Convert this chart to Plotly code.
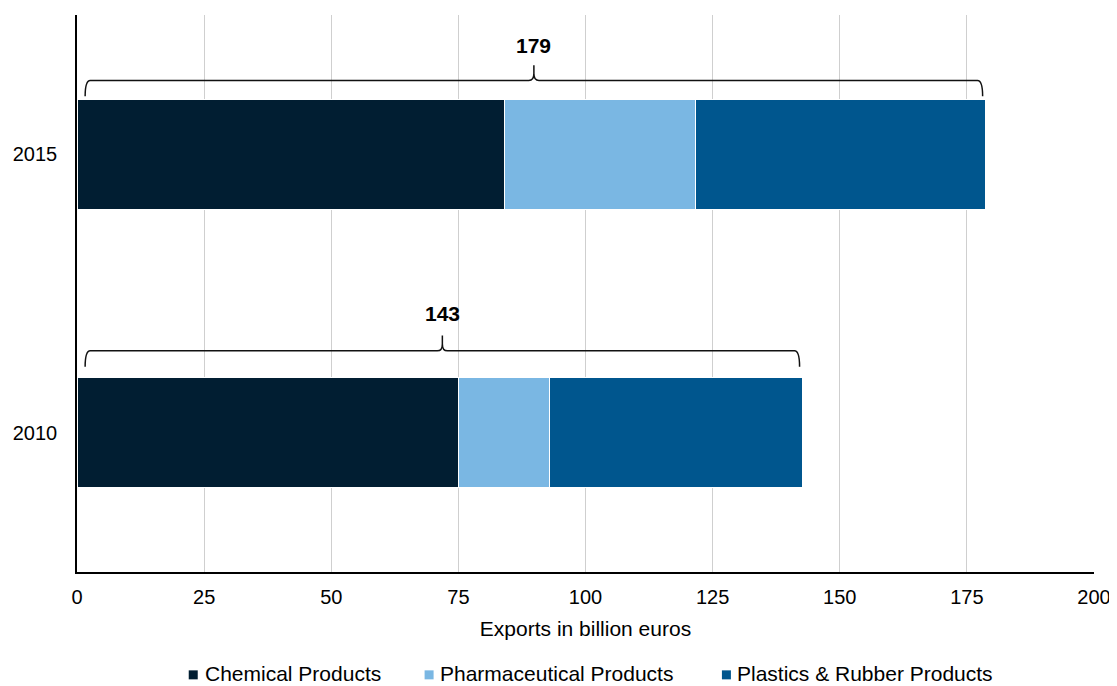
import plotly.graph_objects as go

years = ["2010", "2015"]
series_names = ["Chemical Products", "Pharmaceutical Products", "Plastics & Rubber Products"]
chemical = [75.0, 84.0]
pharma = [18.0, 37.6]
plastics = [49.7, 57.1]
totals = [143, 179]
colors = ["#011e32", "#7ab7e3", "#00568e"]
x_ticks = [0, 25, 50, 75, 100, 125, 150, 175, 200]

FONT = "Liberation Sans, Arial, sans-serif"
ypos = list(range(len(years)))

# plot-area geometry in page pixels (page has an 8px body margin)
BODY = 8
PX_L, PX_R, PX_T, PX_B = 76.7, 1094.3, 15.0, 571.7
W, H = 1117, 686

def paper_x(px):
    return (px - PX_L) / (PX_R - PX_L)

def paper_y(py):
    return (PX_B - py) / (PX_B - PX_T)

fig = go.Figure()
for name, vals, col in zip(series_names, [chemical, pharma, plastics], colors):
    fig.add_trace(go.Bar(
        y=ypos, x=vals, name=name, orientation="h",
        marker=dict(color=col, line=dict(color="white", width=1)),
        width=0.395, showlegend=False,
    ))

# curly braces above each bar
brace_off = [0.294, 0.265]
label_off = [0.43, 0.392]
sums = [sum(v) for v in zip(chemical, pharma, plastics)]
for yi, tot, bo, lo, t in zip(ypos, sums, brace_off, label_off, totals):
    x0 = 1.6
    x1 = tot - 0.6
    xm = (x0 + x1) / 2
    yH = yi + bo
    yE = yH - 0.057
    yT = yH + 0.055
    rx = 1.0
    ry = 0.025
    path = (
        f"M {x0},{yE} Q {x0},{yH} {x0+rx},{yH} "
        f"L {xm-rx},{yH} Q {xm},{yH} {xm},{yH+ry} L {xm},{yT} "
        f"M {xm},{yH+ry} Q {xm},{yH} {xm+rx},{yH} "
        f"L {x1-rx},{yH} Q {x1},{yH} {x1},{yE}"
    )
    fig.add_shape(type="path", path=path, xref="x", yref="y",
                  line=dict(color="#111111", width=1.5))
    fig.add_annotation(x=xm, y=yi + lo, text=f"<b>{t}</b>",
                       showarrow=False, xref="x", yref="y",
                       font=dict(family=FONT, size=21, color="black"),
                       yanchor="middle")

# legend (drawn manually to match spacing)
leg_sym_x = [193, 429, 726.5]
leg_txt_x = [204, 439, 736]
leg_sym_y = 674.5
leg_txt_y = 673
for name, col, sx, tx in zip(series_names, colors, leg_sym_x, leg_txt_x):
    fig.add_shape(type="rect", xref="paper", yref="paper",
                  xsizemode="pixel", ysizemode="pixel",
                  xanchor=paper_x(sx), yanchor=paper_y(leg_sym_y),
                  x0=-4.5, x1=4.5, y0=-4.5, y1=4.5,
                  fillcolor=col, line=dict(width=0))
    fig.add_annotation(x=paper_x(tx), y=paper_y(leg_txt_y), xref="paper", yref="paper",
                       text=name, showarrow=False, xanchor="left", yanchor="middle",
                       borderpad=0,
                       font=dict(family=FONT, size=21, color="black"))

fig.update_layout(
    width=W, height=H,
    margin=dict(l=PX_L - BODY, r=W - (PX_R - BODY), t=PX_T - BODY, b=H - (PX_B - BODY)),
    paper_bgcolor="white", plot_bgcolor="white",
    barmode="stack",
    font=dict(family=FONT, size=20, color="black"),
    showlegend=False,
    xaxis=dict(
        range=[0, 200], tickvals=x_ticks, ticktext=[str(v) for v in x_ticks],
        showgrid=True, gridcolor="#cfcfcf", gridwidth=1,
        zeroline=False, showline=True, linecolor="black", linewidth=1.5,
        ticks="", tickfont=dict(family=FONT, size=20, color="black"),
        ticklabelstandoff=6, automargin=False,
        title=dict(text="Exports in billion euros", standoff=15,
                   font=dict(family=FONT, size=21, color="black")),
    ),
    yaxis=dict(
        range=[-0.5, 1.5], tickvals=ypos, ticktext=years,
        showgrid=False, zeroline=False, showline=True, linecolor="black", linewidth=1.5,
        ticks="", tickfont=dict(family=FONT, size=20, color="black"),
        ticklabelstandoff=14, automargin=False,
    ),
)

fig.write_html("out.html")
